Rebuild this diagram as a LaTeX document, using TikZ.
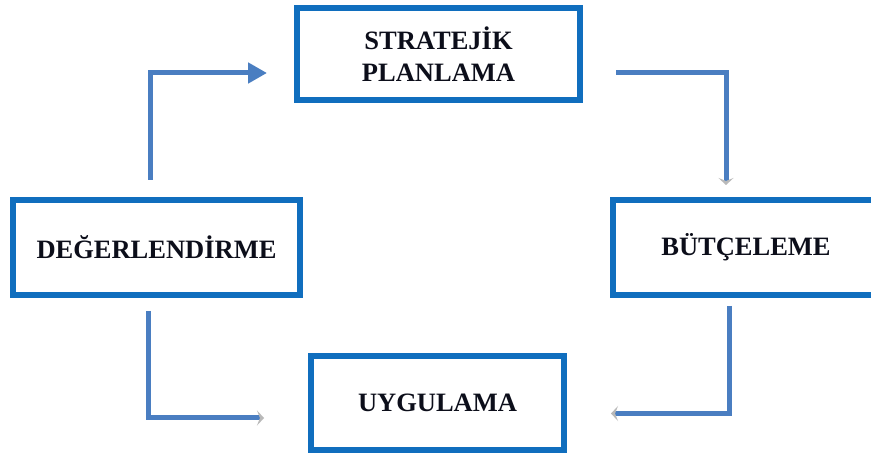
\documentclass[tikz,border=0pt]{standalone}
\usepackage{fontspec}
\setmainfont{Liberation Serif}
\usetikzlibrary{arrows.meta}
\definecolor{boxblue}{RGB}{16,110,190}
\definecolor{flowblue}{RGB}{74,126,193}
\definecolor{inkdark}{RGB}{12,14,26}
\tikzset{
  stagebox/.style={draw=boxblue, line width=6pt, fill=white, inner sep=0pt,
    align=center, text=inkdark,
    font=\bfseries\fontsize{26.5}{32}\selectfont},
  flow/.style={draw=flowblue, line width=5pt},
  headtip/.style={-{Triangle[length=19pt,width=20pt]}},
  fadedtip/.style={-{Stealth[length=7pt,width=15pt,inset=3pt,color=gray!55]}}
}
\begin{document}
\begin{tikzpicture}[x=1pt,y=-1pt]
  \useasboundingbox (0,0) rectangle (871,454);
  \clip (0,0) rectangle (871,454);
  \fill[white] (0,0) rectangle (871,454);

  % stages of the cycle
  \node[stagebox, minimum width=283pt, minimum height=92pt] (plan) at (438.5,54.5)
    {STRATEJİK\\PLANLAMA};
  \node[stagebox, minimum width=287pt, minimum height=95pt] (deg) at (156.5,247.5)
    {DEĞERLENDİRME};
  \node[stagebox, minimum width=266pt, minimum height=95pt] (but) at (746,247.5)
    {BÜTÇELEME};
  \node[stagebox, minimum width=253pt, minimum height=94pt] (uyg) at (437.5,403)
    {UYGULAMA};

  % connectors around the cycle
  \draw[flow, headtip] ([xshift=-6pt,yshift=17pt]deg.north)
    |- ([xshift=-27pt,yshift=-18.5pt]plan.west);
  \draw[flow, fadedtip] ([xshift=33pt,yshift=-18.5pt]plan.east)
    -| ([xshift=-20pt,yshift=12pt]but.north);
  \draw[flow, fadedtip] ([xshift=-17pt,yshift=-8pt]but.south)
    |- ([xshift=44pt,yshift=-10.5pt]uyg.east);
  \draw[flow, fadedtip] ([xshift=-8pt,yshift=-13pt]deg.south)
    |- ([xshift=-44pt,yshift=-15pt]uyg.west);
\end{tikzpicture}
\end{document}
